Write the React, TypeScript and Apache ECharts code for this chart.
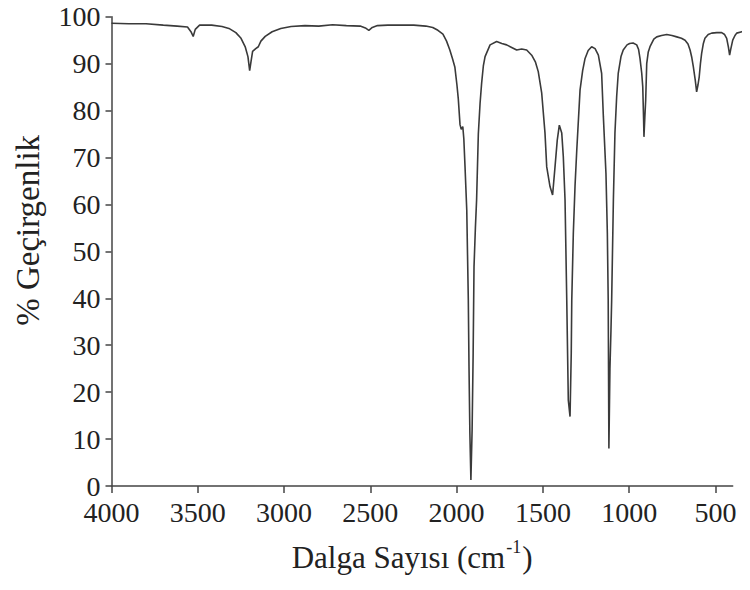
import React, { useEffect, useRef } from "react";
import * as echarts from "echarts";

const xTicks = [4000, 3500, 3000, 2500, 2000, 1500, 1000, 500];
const yTicks = [0, 10, 20, 30, 40, 50, 60, 70, 80, 90, 100];

const wavenumbers = [
  4000, 3900, 3800, 3700, 3620, 3560, 3540, 3527, 3515, 3490, 3420, 3360, 3320, 3280, 3250, 3225, 3210, 3200, 3192, 3183,
  3165, 3150, 3135, 3110, 3070, 3020, 2960, 2880, 2800, 2720, 2640, 2560, 2530, 2510, 2490, 2460, 2400, 2330, 2250, 2180,
  2140, 2110, 2081, 2060, 2041, 2025, 2012, 2000, 1992, 1982, 1975, 1966, 1960, 1953, 1943, 1934, 1930, 1925, 1919, 1912,
  1906, 1901, 1893, 1886, 1876, 1866, 1857, 1847, 1837, 1808, 1770, 1740, 1712, 1680, 1654, 1625, 1596, 1567, 1545, 1529,
  1509, 1490, 1480, 1461, 1446, 1432, 1419, 1407, 1393, 1384, 1374, 1364, 1355, 1345, 1338, 1335, 1326, 1316, 1306, 1287,
  1272, 1258, 1240, 1220, 1200, 1181, 1162, 1152, 1137, 1129, 1124, 1120, 1114, 1108, 1104, 1094, 1085, 1075, 1066, 1050,
  1037, 1015, 1000, 980, 959, 948, 940, 930, 924, 919, 917, 912, 907, 901, 892, 882, 860, 843, 815, 785,
  755, 727, 700, 679, 662, 650, 640, 631, 620, 612, 604, 597, 590, 583, 573, 564, 545, 525, 495, 467,
  450, 438, 428, 421, 415, 403, 390, 380, 350, 330, 303,
];

const transmittance = [
  98.6, 98.5, 98.5, 98.2, 98.0, 97.8, 96.8, 95.8, 97.3, 98.2, 98.2, 97.9, 97.5, 96.6, 95.4, 93.5, 91.5, 88.5, 90.5, 92.6,
  93.2, 93.6, 94.8, 95.8, 96.8, 97.5, 97.9, 98.1, 98.0, 98.3, 98.1, 98.0, 97.6, 97.1, 97.7, 98.1, 98.2, 98.2, 98.2, 98.0,
  97.7, 97.1, 96.3, 94.8, 92.9, 91.0, 89.3, 85.5, 82.5, 77.0, 76.0, 76.6, 74.0, 68.0, 58.8, 39.6, 25.4, 11.3, 1.3, 12.0,
  28.3, 46.7, 55.0, 61.0, 75.0, 81.5, 85.8, 89.5, 91.5, 94.0, 94.7, 94.3, 94.0, 93.4, 92.9, 93.1, 92.9, 91.8, 90.3, 88.3,
  83.7, 75.2, 68.0, 63.8, 62.0, 68.0, 73.7, 76.9, 75.2, 70.2, 61.0, 39.6, 18.3, 14.8, 28.3, 39.6, 53.8, 64.0, 71.6, 84.4,
  88.5, 91.1, 92.8, 93.6, 93.2, 91.8, 87.9, 78.7, 66.6, 53.9, 39.6, 8.0, 25.0, 33.2, 39.6, 61.0, 75.2, 83.0, 87.9, 91.5,
  92.9, 94.0, 94.3, 94.4, 94.0, 93.0, 91.1, 88.0, 85.1, 78.0, 74.4, 78.5, 82.2, 90.0, 92.5, 93.6, 95.2, 95.7, 96.0, 96.2,
  96.0, 95.7, 95.4, 95.0, 94.2, 92.9, 91.3, 89.3, 86.5, 84.0, 85.5, 87.2, 90.0, 92.2, 94.3, 95.4, 96.2, 96.5, 96.6, 96.6,
  96.2, 95.4, 93.5, 91.8, 93.0, 95.0, 96.0, 96.5, 96.8, 97.0, 96.9,
];

const FONT = "Liberation Serif";

export default function App() {
  const ref = useRef<HTMLDivElement>(null);
  useEffect(() => {
    if (!ref.current) return;
    const chart = echarts.init(ref.current, null, { renderer: "svg" });
    const data = wavenumbers.map((w, i) => [w, transmittance[i]]);
    chart.setOption({
      animation: false,
      backgroundColor: "#ffffff",
      grid: [
        { left: 111.5, right: 17.3, top: 16.7, bottom: 104 },
        { left: 111.5, right: 0, top: 16.7, bottom: 104 },
      ],
      xAxis: [
        {
          gridIndex: 0,
          type: "value",
          inverse: true,
          min: 400,
          max: 4000,
          name: "{a|Dalga Sayısı (cm}{s|-1}{a|)}",
          nameLocation: "middle",
          nameGap: 52,
          nameTextStyle: {
            padding: [0, 20, 0, 0],
            rich: {
              a: { fontFamily: FONT, fontSize: 31, color: "#222", lineHeight: 38 },
              s: { fontFamily: FONT, fontSize: 18, color: "#222", verticalAlign: "top", lineHeight: 38, padding: [0, 1, 16, 1] },
            },
          },
          axisLine: { show: true, lineStyle: { color: "#444", width: 1.5 } },
          axisTick: { show: true, length: 7, customValues: xTicks, lineStyle: { color: "#444", width: 1.5 } },
          axisLabel: {
            margin: 15,
            fontFamily: FONT,
            fontSize: 28,
            lineHeight: 22,
            color: "#222",
            customValues: xTicks,
            formatter: (v: number) => String(v),
          },
          splitLine: { show: false },
        },
        {
          gridIndex: 1,
          type: "value",
          inverse: true,
          min: 303,
          max: 4000,
          show: false,
        },
      ],
      yAxis: [
        {
          gridIndex: 0,
          type: "value",
          min: 0,
          max: 100,
          interval: 10,
          name: "% Geçirgenlik",
          nameLocation: "middle",
          nameRotate: 90,
          nameGap: 67,
          nameTextStyle: { fontFamily: FONT, fontSize: 33, color: "#222", padding: [0, 0, 0, 42] },
          axisLine: { show: true, lineStyle: { color: "#444", width: 1.5 } },
          axisTick: { show: true, length: 6, lineStyle: { color: "#444", width: 1.5 } },
          axisLabel: {
            margin: 11,
            fontFamily: FONT,
            fontSize: 28,
            lineHeight: 22,
            color: "#222",
            formatter: (v: number) => (yTicks.includes(v) ? String(v) : ""),
          },
          splitLine: { show: false },
        },
        {
          gridIndex: 1,
          type: "value",
          min: 0,
          max: 100,
          show: false,
        },
      ],
      series: [
        {
          type: "line",
          xAxisIndex: 1,
          yAxisIndex: 1,
          data,
          showSymbol: false,
          symbol: "none",
          clip: false,
          lineStyle: { color: "#3a3a3a", width: 1.6 },
        },
      ],
    });
    return () => chart.dispose();
  }, []);
  return <div ref={ref} style={{ width: 750, height: 590, margin: -8 }} />;
}
